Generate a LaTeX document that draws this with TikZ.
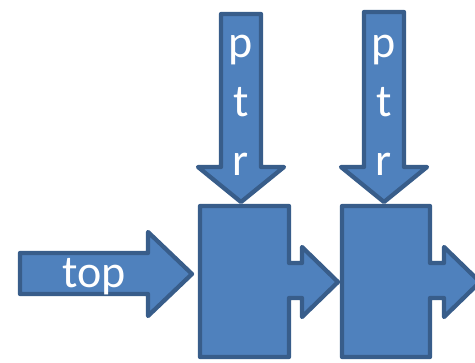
\documentclass[tikz,border=0pt]{standalone}
\usepackage{fontspec}
\setmainfont{Carlito}
\definecolor{blkfill}{HTML}{4F81BD}
\definecolor{blkline}{HTML}{385D8A}
\tikzset{
  blockarrow/.style={fill=blkfill, draw=blkline, line width=4.3pt, line join=round},
  lbl/.style={text=white, inner sep=0pt, anchor=base, font=\fontsize{46}{55}\selectfont}
}
\begin{document}
\begin{tikzpicture}[x=1pt,y=-1pt]
\useasboundingbox (0,0) rectangle (475,363);
\clip (0,0) rectangle (475,363);
% left "top" arrow
\path[blockarrow] (20,253) -- (148,253) -- (148,232) -- (192,274) -- (148,316) -- (148,294) -- (20,294) -- cycle;
% ptr arrows
\path[blockarrow] (221,14) -- (261,14) -- (261,167) -- (284,167) -- (241,202) -- (198,167) -- (221,167) -- cycle;
\path[blockarrow] (364,12) -- (404,12) -- (404,167) -- (427,167) -- (384,202) -- (341,167) -- (364,167) -- cycle;
% boxes with right arrows
\path[blockarrow] (200,206) -- (289,206) -- (289,263) -- (302,263) -- (302,247) -- (338,282) -- (302,317) -- (302,298) -- (289,298) -- (289,357) -- (200,357) -- cycle;
\path[blockarrow] (342,206) -- (430,206) -- (430,263) -- (444,263) -- (444,247) -- (480,282) -- (444,317) -- (444,298) -- (430,298) -- (430,357) -- (342,357) -- cycle;
% labels
\node[lbl] (top) at (94,288) {top};
\node[lbl] (p1) at (241,58) {p};
\node[lbl] (t1) at (241,117) {t};
\node[lbl] (r1) at (241,176) {r};
\node[lbl] (p2) at (384,58) {p};
\node[lbl] (t2) at (384,117) {t};
\node[lbl] (r2) at (384,176) {r};
\end{tikzpicture}
\end{document}
